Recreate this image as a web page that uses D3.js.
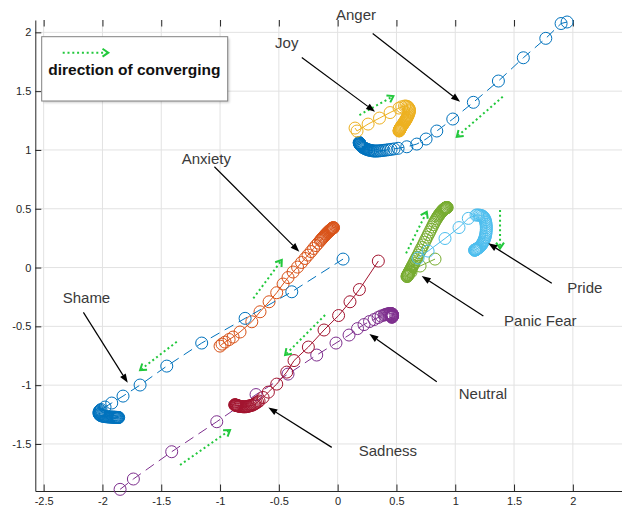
<!DOCTYPE html>
<html><head><meta charset="utf-8">
<script src="https://cdn.jsdelivr.net/npm/d3@7/dist/d3.min.js"></script>
<style>
html,body{margin:0;padding:0;background:#fff;}
svg{display:block;font-family:"Liberation Sans",Arial,Helvetica,sans-serif;}
</style></head><body>
<svg id="chart" width="622" height="506"></svg>
<script>
// Emotion trajectories in the 2-D embedding, [x, y] per iteration
const anger = [[1.951,2.088],[1.900,2.075],[1.770,1.949],[1.579,1.784],[1.367,1.586],[1.154,1.405],[0.979,1.263],[0.843,1.161],[0.752,1.093],[0.673,1.050],[0.588,1.027],[0.514,1.014],[0.480,1.009],[0.454,1.005],[0.432,1.002],[0.412,0.999],[0.394,0.997],[0.378,0.995],[0.362,0.993],[0.348,0.992],[0.335,0.991],[0.322,0.991],[0.311,0.991],[0.301,0.992],[0.290,0.994],[0.280,0.996],[0.271,0.998],[0.263,1.000],[0.254,1.003],[0.246,1.006],[0.239,1.009],[0.233,1.012],[0.226,1.016],[0.220,1.019],[0.215,1.022],[0.210,1.026],[0.206,1.030],[0.202,1.034],[0.199,1.038],[0.196,1.042],[0.193,1.045],[0.190,1.048],[0.188,1.051],[0.187,1.054],[0.186,1.057],[0.185,1.059],[0.184,1.061],[0.183,1.062]];
const anxiety = [[-1.000,-0.668],[-0.983,-0.651],[-0.957,-0.634],[-0.923,-0.612],[-0.889,-0.591],[-0.830,-0.548],[-0.730,-0.461],[-0.660,-0.376],[-0.583,-0.291],[-0.518,-0.214],[-0.464,-0.140],[-0.422,-0.085],[-0.379,-0.038],[-0.341,0.004],[-0.307,0.043],[-0.277,0.077],[-0.252,0.106],[-0.226,0.136],[-0.205,0.162],[-0.184,0.187],[-0.165,0.208],[-0.147,0.230],[-0.139,0.239],[-0.131,0.248],[-0.123,0.257],[-0.116,0.265],[-0.109,0.273],[-0.102,0.281],[-0.096,0.287],[-0.090,0.293],[-0.084,0.299],[-0.079,0.304],[-0.074,0.309],[-0.069,0.314],[-0.064,0.318],[-0.060,0.321],[-0.056,0.325],[-0.053,0.327],[-0.049,0.330],[-0.046,0.332],[-0.043,0.335],[-0.040,0.337],[-0.037,0.339],[-0.035,0.340]];
const joy = [[0.148,1.186],[0.165,1.161],[0.259,1.220],[0.356,1.271],[0.446,1.318],[0.522,1.356],[0.545,1.367],[0.569,1.373],[0.582,1.373],[0.594,1.369],[0.601,1.362],[0.607,1.352],[0.610,1.343],[0.611,1.335],[0.610,1.325],[0.607,1.314],[0.603,1.303],[0.599,1.293],[0.595,1.285],[0.590,1.276],[0.586,1.267],[0.582,1.259],[0.578,1.252],[0.573,1.246],[0.569,1.239],[0.565,1.233],[0.561,1.226],[0.556,1.220],[0.552,1.214],[0.548,1.209],[0.545,1.204],[0.542,1.199],[0.539,1.194],[0.537,1.190],[0.534,1.186],[0.532,1.183],[0.530,1.179],[0.529,1.176],[0.527,1.173],[0.526,1.171],[0.525,1.169],[0.525,1.167],[0.524,1.165],[0.523,1.163],[0.522,1.161]];
const neutral = [[-1.850,-1.886],[-1.737,-1.798],[-1.411,-1.566],[-1.028,-1.311],[-0.694,-1.080],[-0.422,-0.906],[-0.178,-0.744],[-0.014,-0.642],[0.097,-0.574],[0.169,-0.519],[0.224,-0.485],[0.271,-0.459],[0.310,-0.442],[0.344,-0.425],[0.369,-0.412],[0.395,-0.404],[0.406,-0.400],[0.416,-0.397],[0.425,-0.395],[0.433,-0.393],[0.440,-0.392],[0.446,-0.391],[0.451,-0.391],[0.456,-0.392],[0.460,-0.393],[0.463,-0.395],[0.465,-0.398],[0.466,-0.401],[0.467,-0.404],[0.467,-0.408],[0.466,-0.411],[0.465,-0.414],[0.464,-0.417],[0.463,-0.419],[0.462,-0.421],[0.460,-0.423]];
const panicFear = [[0.828,0.072],[0.701,0.013],[0.624,-0.038],[0.599,-0.064],[0.590,-0.077],[0.591,-0.074],[0.593,-0.071],[0.595,-0.066],[0.597,-0.062],[0.600,-0.057],[0.603,-0.051],[0.606,-0.045],[0.610,-0.038],[0.613,-0.031],[0.617,-0.024],[0.621,-0.016],[0.626,-0.008],[0.630,0.001],[0.635,0.010],[0.640,0.020],[0.647,0.034],[0.655,0.050],[0.664,0.068],[0.674,0.087],[0.684,0.106],[0.694,0.127],[0.705,0.149],[0.716,0.170],[0.727,0.192],[0.738,0.214],[0.749,0.237],[0.760,0.259],[0.771,0.281],[0.782,0.302],[0.793,0.324],[0.803,0.345],[0.813,0.365],[0.823,0.384],[0.832,0.400],[0.841,0.415],[0.849,0.428],[0.856,0.439],[0.863,0.448],[0.869,0.457],[0.875,0.465],[0.881,0.472],[0.886,0.478],[0.891,0.484],[0.896,0.489],[0.901,0.493],[0.905,0.497],[0.909,0.500],[0.913,0.503],[0.916,0.505],[0.919,0.507],[0.922,0.508],[0.925,0.509],[0.927,0.510],[0.929,0.511],[0.931,0.511]];
const pride = [[0.684,0.081],[0.769,0.140],[0.913,0.247],[1.032,0.340],[1.111,0.418],[1.177,0.446],[1.190,0.447],[1.202,0.446],[1.213,0.444],[1.224,0.442],[1.233,0.436],[1.241,0.429],[1.248,0.419],[1.253,0.408],[1.257,0.396],[1.260,0.383],[1.262,0.368],[1.264,0.353],[1.264,0.338],[1.264,0.323],[1.263,0.308],[1.261,0.293],[1.259,0.279],[1.256,0.265],[1.252,0.252],[1.248,0.240],[1.243,0.228],[1.238,0.217],[1.232,0.207],[1.226,0.197],[1.220,0.189],[1.213,0.181],[1.207,0.175],[1.200,0.169],[1.194,0.165],[1.188,0.161],[1.183,0.158],[1.179,0.155],[1.175,0.153],[1.172,0.151],[1.170,0.150],[1.168,0.149],[1.166,0.148],[1.165,0.147]];
const sadness = [[0.346,0.055],[0.185,-0.187],[0.105,-0.291],[0.008,-0.408],[-0.116,-0.531],[-0.249,-0.676],[-0.371,-0.791],[-0.433,-0.889],[-0.518,-0.991],[-0.589,-1.059],[-0.634,-1.105],[-0.668,-1.135],[-0.681,-1.144],[-0.694,-1.152],[-0.705,-1.159],[-0.715,-1.165],[-0.726,-1.170],[-0.736,-1.173],[-0.747,-1.176],[-0.758,-1.179],[-0.767,-1.181],[-0.776,-1.183],[-0.785,-1.184],[-0.794,-1.184],[-0.802,-1.184],[-0.810,-1.183],[-0.818,-1.182],[-0.825,-1.181],[-0.832,-1.180],[-0.838,-1.179],[-0.844,-1.177],[-0.849,-1.176],[-0.853,-1.174],[-0.857,-1.173],[-0.861,-1.172],[-0.864,-1.171],[-0.867,-1.170],[-0.869,-1.169],[-0.871,-1.168],[-0.873,-1.168],[-0.875,-1.167]];
const shame = [[0.046,0.072],[-0.390,-0.206],[-0.787,-0.432],[-1.156,-0.642],[-1.453,-0.838],[-1.680,-0.999],[-1.825,-1.093],[-1.921,-1.152],[-1.978,-1.186],[-2.012,-1.207],[-2.019,-1.214],[-2.025,-1.220],[-2.028,-1.227],[-2.029,-1.233],[-2.029,-1.240],[-2.027,-1.246],[-2.024,-1.250],[-2.020,-1.254],[-2.014,-1.258],[-2.008,-1.261],[-2.000,-1.263],[-1.991,-1.265],[-1.982,-1.267],[-1.973,-1.268],[-1.964,-1.269],[-1.955,-1.270],[-1.946,-1.270],[-1.938,-1.271],[-1.930,-1.271],[-1.922,-1.272],[-1.915,-1.272],[-1.908,-1.272],[-1.901,-1.273],[-1.895,-1.273],[-1.889,-1.273],[-1.884,-1.274],[-1.879,-1.274],[-1.875,-1.274],[-1.871,-1.275],[-1.868,-1.275],[-1.865,-1.275],[-1.862,-1.275]];

// Axis ticks
const xTicks = [-2.5,-2,-1.5,-1,-0.5,0,0.5,1,1.5,2];
const xTickLabels = ["-2.5","-2","-1.5","-1","-0.5","0","0.5","1","1.5","2"];
const yTicks = [-1.5,-1,-0.5,0,0.5,1,1.5,2];
const yTickLabels = ["-1.5","-1","-0.5","0","0.5","1","1.5","2"];

// Emotion labels with their pointer arrows (tail -> head), data units
const labelNames = ["Anger","Joy","Anxiety","Shame","Sadness","Neutral","Panic Fear","Pride"];
const labelPos = [[-0.014,2.105],[-0.532,1.867],[-1.326,0.880],[-2.338,-0.302],[0.179,-1.603],[1.030,-1.118],[1.415,-0.497],[1.953,-0.217]];
const pointerTail = [[0.298,1.991],[-0.305,1.787],[-1.048,0.857],[-2.162,-0.381],[-0.050,-1.529],[0.843,-0.971],[1.239,-0.412],[1.821,-0.134]];
const pointerHead = [[1.041,1.410],[0.318,1.325],[-0.326,0.134],[-1.785,-0.980],[-0.589,-1.189],[0.270,-0.565],[0.715,-0.072],[1.281,0.206]];

// Direction-of-convergence hints (tail -> head), data units
const trendTail = [[0.185,1.297],[1.404,1.452],[-0.717,-0.262],[-1.368,-0.631],[-0.107,-0.404],[-1.340,-1.679],[0.582,0.121],[1.381,0.489]];
const trendHead = [[0.474,1.458],[1.013,1.112],[-0.475,0.064],[-1.680,-0.872],[-0.447,-0.744],[-0.915,-1.382],[0.758,0.474],[1.381,0.163]];

const legendText = "direction of converging";

// Plot order and styling (MATLAB default colour order)
const series = [
  {pts: anger,     color: "#0072BD", dash: "10,6"},
  {pts: anxiety,   color: "#D95319", dash: null},
  {pts: joy,       color: "#EDB120", dash: null},
  {pts: neutral,   color: "#7E2F8E", dash: "10,6"},
  {pts: panicFear, color: "#77AC30", dash: null},
  {pts: pride,     color: "#4DBEEE", dash: null},
  {pts: sadness,   color: "#A2142F", dash: null},
  {pts: shame,     color: "#0072BD", dash: "10,6"}
];

const svg = d3.select("#chart");
const x = d3.scaleLinear().domain([-2.571, 2.418]).range([35.3, 622]);
const y = d3.scaleLinear().domain([-1.9, 2.105]).range([491, 20]);
const axisColor = "#262626";
const green = "#22c83c";

// grid
const grid = svg.append("g").attr("stroke", "#e2e2e2").attr("stroke-width", 1);
grid.selectAll("line.gx").data(xTicks).join("line")
  .attr("x1", d => x(d)).attr("x2", d => x(d)).attr("y1", y.range()[0]).attr("y2", y.range()[1]);
grid.selectAll("line.gy").data(yTicks).join("line").attr("class","gy")
  .attr("y1", d => y(d)).attr("y2", d => y(d)).attr("x1", x.range()[0]).attr("x2", x.range()[1]);

// axes
const fmtX = d => xTickLabels[xTicks.indexOf(d)];
const fmtY = d => yTickLabels[yTicks.indexOf(d)];
const gx = svg.append("g").attr("transform", `translate(0,${y.range()[0]})`)
  .call(d3.axisBottom(x).tickValues(xTicks).tickFormat(fmtX).tickSizeInner(-6.5).tickSizeOuter(0).tickPadding(6.5));
const gy = svg.append("g").attr("transform", `translate(${x.range()[0]},0)`)
  .call(d3.axisLeft(y).tickValues(yTicks).tickFormat(fmtY).tickSizeInner(-6).tickSizeOuter(0).tickPadding(4));
const gt = svg.append("g").attr("transform", `translate(0,${y.range()[1]})`)
  .call(d3.axisTop(x).tickValues(xTicks).tickFormat("").tickSizeInner(-6.5).tickSizeOuter(0));
gt.select(".domain").remove();
[gx, gy, gt].forEach(g => {
  g.selectAll("path,line").attr("stroke", axisColor).attr("stroke-width", 1);
  g.selectAll("text").attr("fill", axisColor).attr("font-size", 11).attr("font-family", '"Liberation Sans",Arial,sans-serif');
});

// trajectories
const line = d3.line().x(d => x(d[0])).y(d => y(d[1]));
const traj = svg.append("g");
series.forEach(s => {
  const g = traj.append("g");
  g.append("path").attr("d", line(s.pts)).attr("fill", "none")
    .attr("stroke", s.color).attr("stroke-width", 1)
    .attr("stroke-dasharray", s.dash);
  g.selectAll("circle").data(s.pts).join("circle")
    .attr("cx", d => x(d[0])).attr("cy", d => y(d[1])).attr("r", 6)
    .attr("fill", "none").attr("stroke", s.color).attr("stroke-width", 1);
});

// green dotted hint arrow with an open chevron head
function hintArrow(g, x1, y1, x2, y2) {
  const a = Math.atan2(y2 - y1, x2 - x1), L = 7, w = 0.6;
  g.append("line").attr("x1", x1).attr("y1", y1).attr("x2", x2 - 2 * Math.cos(a)).attr("y2", y2 - 2 * Math.sin(a))
    .attr("stroke", green).attr("stroke-width", 2).attr("stroke-dasharray", "2,2.8");
  g.append("path")
    .attr("d", `M${x2 - L * Math.cos(a - w)},${y2 - L * Math.sin(a - w)}L${x2},${y2}L${x2 - L * Math.cos(a + w)},${y2 - L * Math.sin(a + w)}`)
    .attr("fill", "none").attr("stroke", green).attr("stroke-width", 2).attr("stroke-linejoin", "miter");
}
const hints = svg.append("g");
trendTail.forEach((t, i) => hintArrow(hints, x(t[0]), y(t[1]), x(trendHead[i][0]), y(trendHead[i][1])));

// black pointer arrows and labels
const notes = svg.append("g");
pointerTail.forEach((t, i) => {
  const x1 = x(t[0]), y1 = y(t[1]), x2 = x(pointerHead[i][0]), y2 = y(pointerHead[i][1]);
  const a = Math.atan2(y2 - y1, x2 - x1), L = 9, h = 3.3;
  const bx = x2 - L * Math.cos(a), by = y2 - L * Math.sin(a);
  notes.append("line").attr("x1", x1).attr("y1", y1).attr("x2", bx).attr("y2", by)
    .attr("stroke", "#000").attr("stroke-width", 1.2);
  notes.append("path")
    .attr("d", `M${x2},${y2}L${bx + h * Math.sin(a)},${by - h * Math.cos(a)}L${bx - h * Math.sin(a)},${by + h * Math.cos(a)}Z`)
    .attr("fill", "#000");
});
notes.selectAll("text").data(labelNames).join("text")
  .attr("x", (d, i) => x(labelPos[i][0])).attr("y", (d, i) => y(labelPos[i][1]))
  .attr("font-size", 15).attr("fill", "#3a3a3a").text(d => d);

// legend box
const lg = svg.append("g");
const defs = svg.append("defs");
defs.append("filter").attr("id", "soft").append("feGaussianBlur").attr("stdDeviation", 1.2);
lg.append("rect").attr("x", 43.5).attr("y", 38.5).attr("width", 186).attr("height", 64.3)
  .attr("fill", "#000").attr("opacity", 0.18).attr("filter", "url(#soft)");
lg.append("rect").attr("x", 41.7).attr("y", 36.7).attr("width", 186).attr("height", 64.3)
  .attr("fill", "#fff").attr("stroke", "#808080").attr("stroke-width", 1);
hintArrow(lg, 62.7, 52.7, 108.3, 52.7);
lg.append("text").attr("x", 48.3).attr("y", 74.5).attr("font-size", 15.5).attr("font-weight", "bold")
  .attr("fill", "#111").text(legendText);
</script>
</body></html>
